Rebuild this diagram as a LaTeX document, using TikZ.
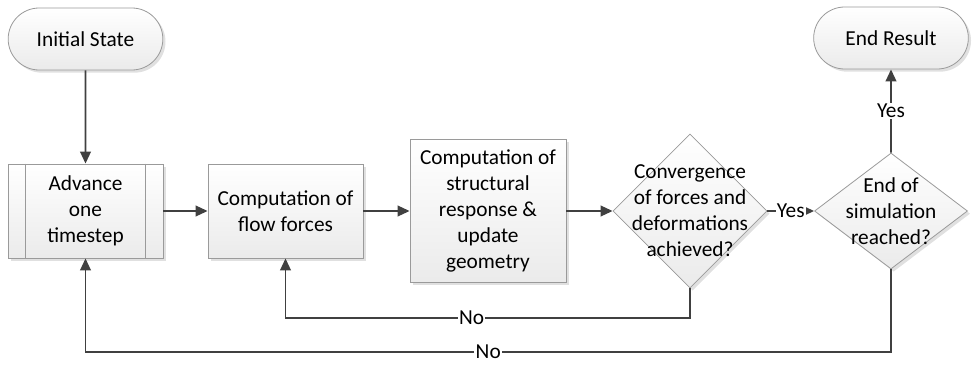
\documentclass[tikz,border=0pt]{standalone}
\usepackage{fontspec}
\setmainfont{Carlito}
\usetikzlibrary{shapes.geometric,shapes.misc,arrows.meta,shadows}

\definecolor{linegray}{HTML}{404040}
\definecolor{edgegray}{HTML}{9A9A9A}

\tikzset{
  boxbase/.style={draw=edgegray, line width=0.6pt, top color=white, bottom color=gray!16,
    drop shadow={shadow xshift=2pt, shadow yshift=-2pt, fill=gray!40, opacity=.6},
    align=center, inner sep=0pt, font=\fontsize{16}{19.5}\selectfont},
  terminal/.style={boxbase, rounded rectangle, minimum width=116pt, minimum height=46.5pt},
  process/.style={boxbase, rectangle, minimum width=116.25pt},
  decision/.style={boxbase, diamond},
  txt/.style={align=center, inner sep=0pt, font=\fontsize{16}{19.5}\selectfont},
  lbl/.style={fill=white, inner sep=1pt, font=\fontsize{16}{19.5}\selectfont},
  flowline/.style={->, >={Triangle[length=9pt,width=8pt]}, draw=linegray, line width=1.4pt}
}

\begin{document}
\begin{tikzpicture}[x=0.75pt,y=-0.75pt]
\useasboundingbox (0,0) rectangle (974,364);
% start and end
\node[terminal] (init) at (85.5,39) {Initial State};
\node[terminal] (endres) at (891,38) {End Result};
% steps
\node[process, minimum height=70.5pt] (adv) at (85.5,211) {Advance\\one\\timestep};
\draw[edgegray, line width=0.6pt] ([xshift=13.5pt]adv.north west) -- ([xshift=13.5pt]adv.south west);
\draw[edgegray, line width=0.6pt] ([xshift=-13.5pt]adv.north east) -- ([xshift=-13.5pt]adv.south east);
\node[process, minimum height=70.5pt] (flow) at (285.5,211) {Computation of\\flow forces};
\node[process, minimum width=117pt, minimum height=107.25pt] (struct) at (488,211) {Computation of\\structural\\response \&\\update\\geometry};
% decisions
\node[decision, minimum width=115.5pt, minimum height=115.5pt] (conv) at (690,211) {};
\node[txt] (convtxt) at (conv) {Convergence\\of forces and\\deformations\\achieved?};
\node[decision, minimum width=114.75pt, minimum height=87pt] (simend) at (891,211) {};
\node[txt] (simendtxt) at (simend) {End of\\simulation\\reached?};
% connectors
\coordinate (innerloop) at (0,318);
\coordinate (outerloop) at (0,352);
\draw[flowline] (init) -- (adv);
\draw[flowline] (adv) -- (flow);
\draw[flowline] (flow) -- (struct);
\draw[flowline] (struct) -- (conv);
\draw[flowline] (conv) -- node[lbl] {Yes} (simend);
\draw[flowline] (simend) -- node[lbl] {Yes} (endres);
\draw[flowline] (conv.south) |- node[lbl, pos=.77] {No} (flow.south |- innerloop) -- (flow.south);
\draw[flowline] (simend.south) |- node[lbl, pos=.75] {No} (adv.south |- outerloop) -- (adv.south);
\end{tikzpicture}
\end{document}
